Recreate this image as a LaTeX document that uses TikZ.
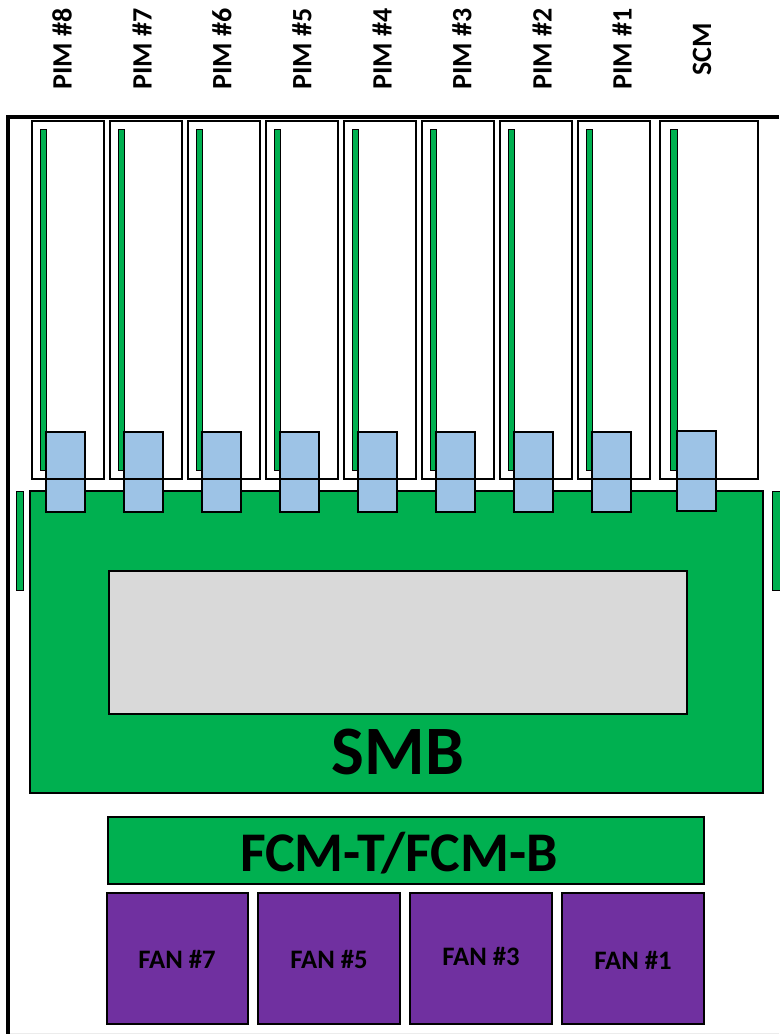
\documentclass[tikz,border=0pt]{standalone}
\usepackage{fontspec}
\setmainfont{Carlito}
\usetikzlibrary{positioning}

\definecolor{boardgreen}{HTML}{00B050}
\definecolor{connblue}{HTML}{9DC3E6}
\definecolor{chipgray}{HTML}{D9D9D9}
\definecolor{fanpurple}{HTML}{7030A0}

\begin{document}
\begin{tikzpicture}[
  x=0.75pt, y=-0.75pt,
  card/.style={draw, line width=0.8pt, fill=white},
  strip/.style={draw, line width=0.6pt, fill=boardgreen},
  conn/.style={draw, line width=0.8pt, fill=connblue},
  board/.style={draw, line width=0.8pt, fill=boardgreen},
  fan/.style={draw, line width=0.8pt, fill=fanpurple},
  slotlbl/.style={rotate=90, font=\fontsize{21}{25}\selectfont\bfseries, inner sep=0pt},
  fanlbl/.style={font=\fontsize{20}{24}\selectfont\bfseries, inner sep=0pt}
]
  \useasboundingbox (0,0) rectangle (779,1034);

  % chassis frame
  \draw[gray!15, line width=0.5pt] (8,1033) -- (779,1033);
  \draw[line width=2.4pt] (8,1034) -- (8,117) -- (779,117);

  % PIM cards and SCM
  \foreach \i/\n in {0/8,1/7,2/6,3/5,4/4,5/3,6/2,7/1} {
    \draw[card] ({32+78*\i},121) rectangle ({104+78*\i},479);
    \draw[strip] ({40+78*\i},129) rectangle ({46+78*\i},470);
    \node[slotlbl] (pim\n) at ({62+80*\i},49) {PIM \#\n};
  }
  \draw[card] (660,121) rectangle (758,479);
  \draw[strip] (670,129) rectangle (677,470);
  \node[slotlbl] (scm) at (702,49) {SCM};

  % SMB
  \draw[strip] (16,491) rectangle (23,590);
  \draw[strip] (772,491) rectangle (782,590);
  \draw[board] (30,491) rectangle (763,793);
  \draw[draw, line width=0.8pt, fill=chipgray] (109,571) rectangle (687,714);
  \node[font=\fontsize{52}{60}\selectfont\bfseries, inner sep=0pt] (smb) at (398,752) {SMB};

  % connectors
  \foreach \i in {0,...,7} {
    \draw[conn] ({46+78*\i},432) rectangle ({85+78*\i},512);
    \draw[line width=0.8pt] ({46+78*\i},479) -- ({85+78*\i},479);
  }
  \draw[conn] (677,431) rectangle (716,511);
  \draw[line width=0.8pt] (677,479) -- (716,479);

  % fan control and fans
  \draw[board] (108,817) rectangle (704,884);
  \node[font=\fontsize{42}{50}\selectfont\bfseries, inner sep=0pt] (fcm) at (399,853) {FCM-T/FCM-B};

  \draw[fan] (107,893) rectangle (248,1024);
  \draw[fan] (258,893) rectangle (400,1024);
  \draw[fan] (410,893) rectangle (552,1024);
  \draw[fan] (562,893) rectangle (704,1024);
  \node[fanlbl] (fan7) at (177,959) {FAN \#7};
  \node[fanlbl] (fan5) at (329,959) {FAN \#5};
  \node[fanlbl] (fan3) at (481,956) {FAN \#3};
  \node[fanlbl] (fan1) at (633,960) {FAN \#1};
\end{tikzpicture}
\end{document}
